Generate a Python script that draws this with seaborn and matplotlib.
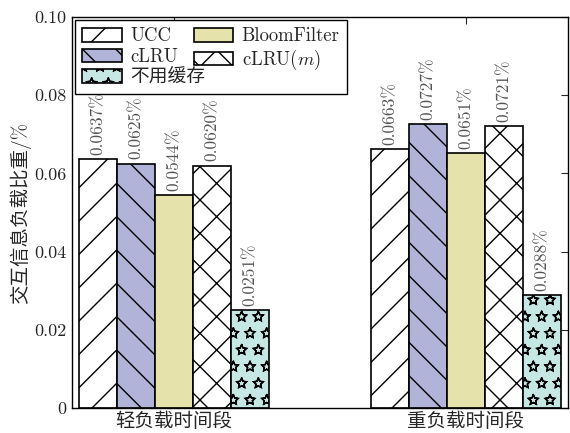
import matplotlib
matplotlib.use("Agg")
import matplotlib.pyplot as plt
import matplotlib.hatch as mhatch
import numpy as np
import pandas as pd
import seaborn as sns

# ---- data -------------------------------------------------------------
periods = ["轻负载时间段", "重负载时间段"]
methods = ["UCC", "cLRU", "BloomFilter", "cLRU($m$)", "不用缓存"]
ucc = [0.0637, 0.0663]
clru = [0.0625, 0.0727]
bloom = [0.0544, 0.0651]
clru_m = [0.0620, 0.0721]
no_cache = [0.0251, 0.0288]

colors = ["#ffffff", "#b1b3d9", "#e5e2ab", "#ffffff", "#c6e8e4"]
hatches = ["/", "\\", "", "x", "*"]
y_ticks = [0, 0.02, 0.04, 0.06, 0.08, 0.10]
y_tick_labels = ["0", "0.02", "0.04", "0.06", "0.08", "0.10"]

df = pd.DataFrame({
    "period": periods * 5,
    "method": np.repeat(methods, 2),
    "value": ucc + clru + bloom + clru_m + no_cache,
})

# ---- style ------------------------------------------------------------
sns.set_style("white")
plt.rcParams["font.family"] = ["cmr10", "Noto Sans CJK SC"]
plt.rcParams["mathtext.fontset"] = "cm"
plt.rcParams["axes.unicode_minus"] = False
plt.rcParams["hatch.linewidth"] = 1.0
# outlined stars instead of solid ones
mhatch.Stars.filled = False
mhatch.Stars.size = 0.32

fig = plt.figure(figsize=(5.7, 4.33), dpi=100)
ax = fig.add_axes([0.126, 0.0577, 0.8705, 0.903])

sns.barplot(data=df, x="period", y="value", hue="method",
            hue_order=methods, order=periods,
            palette=dict(zip(methods, colors)), saturation=1,
            width=0.65, edgecolor="black", linewidth=1.2,
            errorbar=None, legend=False, ax=ax)

for cont, h, m in zip(ax.containers, hatches, methods):
    for bar in cont.patches:
        bar.set_hatch(h)
    vals = df.loc[df["method"] == m, "value"].to_list()
    ax.bar_label(cont, labels=[f"{v:.4f}%" for v in vals], rotation=90,
                 padding=3, fontsize=12.5, color="#555555")

ax.set_xlim(-0.35, 1.35)
ax.set_ylim(0, 0.10)
ax.set_yticks(y_ticks, y_tick_labels)
ax.set_xlabel("")
ax.set_ylabel("交互信息负载比重/%", fontsize=14, labelpad=2)
ax.tick_params(axis="both", direction="in", length=5, width=0.8,
               top=True, right=True, labelsize=13, pad=4)
ax.tick_params(axis="x", labelsize=14, pad=3)
for sp in ax.spines.values():
    sp.set_linewidth(1.0)
    sp.set_color("black")

# legend: two columns, filled column-wise; the second column tucks in
# over the empty slot beside the long third entry
order = [0, 1, 4, 2, 3]
leg = ax.legend([ax.containers[i] for i in order], [methods[i] for i in order],
                ncol=2, loc="upper left", fontsize=13.5, frameon=True,
                fancybox=False, framealpha=1, edgecolor="black",
                handlelength=2.1, handleheight=0.75, handletextpad=0.45,
                columnspacing=-0.6, labelspacing=0.15, borderpad=0.4,
                borderaxespad=0.15)
leg.get_frame().set_linewidth(1.0)

fig.savefig("out.png", dpi=100)
